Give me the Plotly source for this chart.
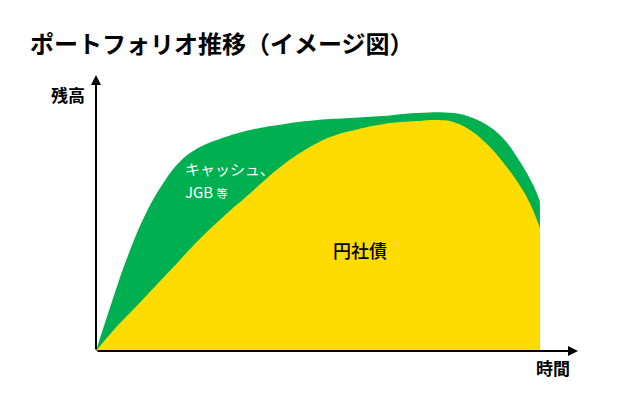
import plotly.graph_objects as go

# 時間 (x) と残高 (y)、画像から読み取った値
t_total = [0.0, 0.33, 0.66, 1.02, 1.37, 1.70, 2.05, 2.68, 3.20, 3.88, 4.59, 5.27, 5.95, 6.66, 7.41, 7.76,
           8.11, 8.44, 8.80, 9.07, 9.21]
total = [0.0, 1.78, 3.44, 4.93, 6.01, 6.78, 7.28, 7.75, 8.01, 8.22, 8.37, 8.44, 8.51, 8.62, 8.62, 8.48,
         8.19, 7.72, 6.85, 6.01, 5.43]

t_yen = [0.0, 0.33, 0.66, 1.02, 1.37, 1.70, 2.05, 2.68, 3.20, 3.55, 3.88, 4.23, 4.59, 4.92, 5.27, 5.95,
         6.66, 7.07, 7.41, 7.76, 8.11, 8.44, 8.80, 9.00, 9.21]
yen_corp = [0.0, 0.69, 1.30, 1.96, 2.61, 3.22, 3.88, 4.93, 5.72, 6.27, 6.74, 7.17, 7.54, 7.79, 7.97, 8.22,
            8.33, 8.37, 8.30, 8.01, 7.50, 6.85, 5.98, 5.36, 4.46]

green = '#00B050'
yellow = '#FFDC00'
jp = 'Noto Sans CJK JP'

fig = go.Figure()
fig.add_trace(go.Scatter(x=t_total, y=total, mode='lines', fill='tozeroy', fillcolor=green,
                         line=dict(width=0, shape='spline', smoothing=1.2), hoverinfo='skip'))
fig.add_trace(go.Scatter(x=t_yen, y=yen_corp, mode='lines', fill='tozeroy', fillcolor=yellow,
                         line=dict(width=0, shape='spline', smoothing=1.2), hoverinfo='skip'))

# 軸の矢印
fig.add_annotation(x=10, y=0, ax=0, ay=0, xref='x', yref='y', axref='x', ayref='y', text='',
                   showarrow=True, arrowhead=2, arrowsize=1, arrowwidth=2, arrowcolor='black', standoff=0)
fig.add_annotation(x=0, y=10, ax=0, ay=0, xref='x', yref='y', axref='x', ayref='y', text='',
                   showarrow=True, arrowhead=2, arrowsize=1, arrowwidth=2, arrowcolor='black', standoff=0)

fig.add_annotation(x=-0.019, y=0.928, xref='paper', yref='paper', text='残高', showarrow=False,
                   xanchor='right', yanchor='middle', font=dict(family=jp, size=17, color='black', weight='bold'))
fig.add_annotation(x=0.948, y=-0.058, xref='paper', yref='paper', text='時間', showarrow=False,
                   xanchor='center', yanchor='middle', font=dict(family=jp, size=17, color='black', weight='bold'))

fig.add_annotation(x=1.80, y=6.60, text='キャッシュ、', showarrow=False, xanchor='left', yanchor='middle',
                   font=dict(family=jp, size=15, color='white'))
fig.add_annotation(x=1.80, y=5.78, text="JGB <span style='font-size:11px'>等</span>", showarrow=False,
                   xanchor='left', yanchor='middle', font=dict(family=jp, size=15, color='white'))
fig.add_annotation(x=5.48, y=3.66, text='円社債', showarrow=False, xanchor='center', yanchor='middle',
                   font=dict(family=jp, size=18, color='black', weight=500))

# ページ本体の余白 8px を差し引いた大きさ
fig.update_layout(
    width=616, height=404,
    margin=dict(l=88, r=46, t=67, b=61),
    paper_bgcolor='white', plot_bgcolor='white',
    showlegend=False,
    title=dict(text='ポートフォリオ推移（イメージ図）', x=22/616, xanchor='left', y=1-37/404, yanchor='middle',
               xref='container', yref='container',
               font=dict(family=jp, size=24, color='black', weight='bold')),
    xaxis=dict(range=[0, 10], visible=False, fixedrange=True),
    yaxis=dict(range=[0, 10], visible=False, fixedrange=True),
)

fig.write_html("out.html")
